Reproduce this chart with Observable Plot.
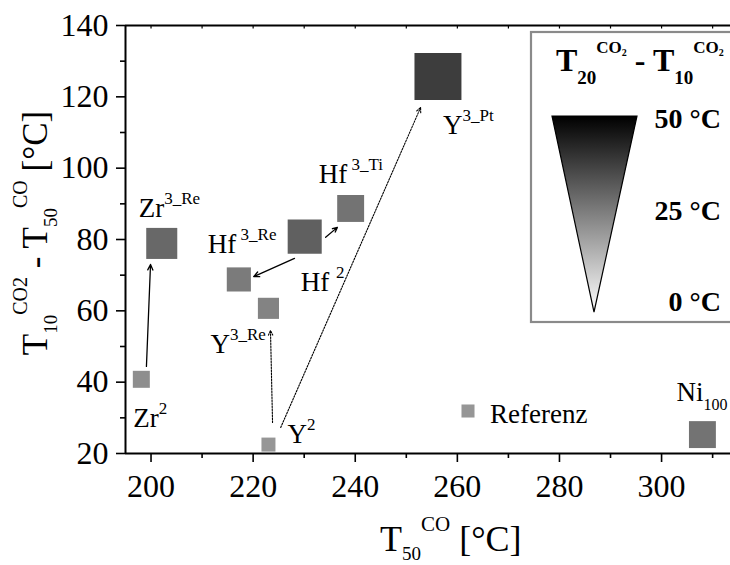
<!DOCTYPE html>
<html><head><meta charset="utf-8">
<script src="https://cdn.jsdelivr.net/npm/d3@7"></script>
<script src="https://cdn.jsdelivr.net/npm/@observablehq/plot@0.6"></script>
<style>
body{margin:0;background:#fff}
svg{font-family:"Liberation Serif","Times New Roman",serif}
svg text{white-space:pre}
</style>
</head><body><div id="chart"></div>
<script>
// ---------- data ----------
const sampleNames = ["Zr2","Zr3_Re","Hf3_Re","Hf2","Hf3_Ti","Y3_Pt","Y3_Re","Y2","Ni100"];
const sampleLabels = ["Zr^{2}","Zr^{3_Re}","Hf^{ 3_Re}","Hf ^{2}","Hf^{ 3_Ti}","Y^{3_Pt}","Y^{3_Re}","Y^{2}","Ni_{100}"];
const t50CO = [198.1, 202.1, 217.2, 230.1, 239.1, 256.2, 223.0, 223.0, 308.0];      // T50^CO [°C]
const t10CO2minusT50CO = [40.8, 78.9, 68.8, 80.8, 88.7, 125.7, 60.7, 22.5, 25.3];   // T10^CO2 - T50^CO [°C]
const t20minusT10CO2 = [22.1, 29.6, 25.9, 31.2, 27.4, 38.1, 24.3, 20.5, 27.4];     // T20^CO2 - T10^CO2 [°C]

// arrows (start / end, data units)
const arrowX1 = [199.1, 228.1, 234.2, 223.8, 225.4];
const arrowY1 = [44.4, 74.7, 80.6, 28.7, 27.3];
const arrowX2 = [199.9, 220.1, 236.5, 223.4, 252.8];
const arrowY2 = [73.0, 69.6, 83.4, 54.5, 117.0];
const arrowDotted = [false, false, false, true, true];

const xTicks = [200, 220, 240, 260, 280, 300];
const xMinorTicks = [210, 230, 250, 270, 290, 310];
const yTicks = [20, 40, 60, 80, 100, 120, 140];
const yMinorTicks = [30, 50, 70, 90, 110, 130];
const xDomain = [195, 313.5];
const yDomain = [20, 140];
const legendTicks = [50, 25, 0];
const referenceLabel = "Referenz";
const referenceSample = "Y2";

// ---------- layout (pixel offsets of labels relative to their square) ----------
const labelOffsets = {
  Zr2: [-8, 48], Zr3_Re: [-23, -26], Hf3_Re: [-31, -26], Hf2: [-4, 54],
  Hf3_Ti: [-32, -25], Y3_Pt: [5, 57], Y3_Re: [-58, 45], Y2: [19, -2], Ni100: [-26, -34]
};

const points = sampleNames.map((n, i) => ({name: n, label: sampleLabels[i], x: t50CO[i], y: t10CO2minusT50CO[i], dT: t20minusT10CO2[i]}));
const arrows = arrowX1.map((_, i) => ({x1: arrowX1[i], y1: arrowY1[i], x2: arrowX2[i], y2: arrowY2[i], dotted: arrowDotted[i]}));

const labelMarks = points.map(p => Plot.text([p], {
  x: "x", y: "y", text: "label", dx: labelOffsets[p.name][0], dy: labelOffsets[p.name][1],
  textAnchor: "start", lineAnchor: "bottom", fontSize: 27, fill: "black"
}));

const plot = Plot.plot({
  width: 730, height: 565,
  marginLeft: 125, marginRight: 0, marginTop: 25, marginBottom: 112,
  x: {domain: xDomain},
  y: {domain: yDomain},
  color: {type: "linear", domain: [0, 50], range: ["white", "black"], interpolate: "rgb"},
  r: {type: "linear", domain: [20.5, 38.1], range: [7.9, 26.5]},
  style: {fontFamily: "'Liberation Serif', 'Times New Roman', serif", color: "black", background: "white"},
  marks: [
    Plot.axisY(yTicks, {tickSize: 9, tickPadding: 8, fontSize: 32, label: null, strokeWidth: 1.6}),
    Plot.axisY(yMinorTicks, {tickSize: 5, tickFormat: () => "", label: null, strokeWidth: 1.6}),
    Plot.axisX(xTicks, {tickSize: 9, tickPadding: 12, fontSize: 32, label: null, strokeWidth: 1.6}),
    Plot.axisX(xMinorTicks, {tickSize: 5, tickFormat: () => "", label: null, strokeWidth: 1.6}),
    Plot.axisX([...xTicks, ...xMinorTicks], {anchor: "top", tickSize: 2.5, dy: 2.5, tickFormat: () => "", label: null, strokeWidth: 1.2}),
    Plot.ruleX([xDomain[0]], {strokeWidth: 2}),
    Plot.ruleY([yDomain[0]], {strokeWidth: 2}),
    Plot.ruleY([yDomain[1]], {strokeWidth: 2}),
    Plot.arrow(arrows.filter(a => !a.dotted), {x1: "x1", y1: "y1", x2: "x2", y2: "y2", stroke: "black", strokeWidth: 1.3, headLength: 7, headAngle: 50}),
    Plot.arrow(arrows.filter(a => a.dotted), {x1: "x1", y1: "y1", x2: "x2", y2: "y2", stroke: "black", strokeWidth: 1.1, strokeDasharray: "1.6,1.4", headLength: 7, headAngle: 50}),
    Plot.dot(points, {x: "x", y: "y", r: "dT", fill: "dT", symbol: "square", stroke: null}),
    ...labelMarks
  ]
});
document.getElementById("chart").appendChild(plot);

// ---------- rich text (super/subscripts) ----------
const SVGNS = "http://www.w3.org/2000/svg";
function setRich(el, segs) {
  el.textContent = "";
  let cur = 0;
  for (const s of segs) {
    const ts = document.createElementNS(SVGNS, "tspan");
    ts.setAttribute("font-size", s.fs);
    const sh = s.shift || 0;
    if (sh - cur !== 0) ts.setAttribute("dy", sh - cur);
    cur = sh;
    ts.textContent = s.t;
    el.appendChild(ts);
  }
}
function parseMarkup(str, fs, small, sup, sub) {
  const segs = [];
  const re = /([\^_])\{([^}]*)\}|([^\^_{}]+)/g;
  let m;
  while ((m = re.exec(str))) {
    if (m[1] === "^") segs.push({t: m[2], fs: small, shift: -sup});
    else if (m[1] === "_") segs.push({t: m[2], fs: small, shift: sub});
    else segs.push({t: m[3], fs, shift: 0});
  }
  return segs;
}
const svg = d3.select(plot);
svg.selectAll('g[aria-label="text"] text').each(function() {
  const str = this.textContent;
  const isSub = str.includes("_{");
  setRich(this, parseMarkup(str, 27, isSub ? 16 : 17, 13, 9));
});

// axis titles
const xt = svg.append("text").attr("x", 380).attr("y", 551).attr("text-anchor", "start").attr("fill", "black");
setRich(xt.node(), [
  {t: "T", fs: 36}, {t: "50", fs: 19, shift: 9}, {t: "CO", fs: 21, shift: -20}, {t: " [°C]", fs: 36}
]);
const yt = svg.append("text").attr("transform", "translate(47,233) rotate(-90)").attr("text-anchor", "middle").attr("fill", "black");
setRich(yt.node(), [
  {t: "T", fs: 35}, {t: "10", fs: 19, shift: 10}, {t: "CO2", fs: 20, shift: -20},
  {t: " - T", fs: 35}, {t: "50", fs: 19, shift: 10}, {t: "CO", fs: 20, shift: -20}, {t: " [°C]", fs: 35}
]);

// ---------- colour legend (pixel layout) ----------
const color = plot.scale("color");
const rScale = plot.scale("r");
const defs = svg.append("defs");
const grad = defs.append("linearGradient").attr("id", "triGrad").attr("x1", 0).attr("y1", 0).attr("x2", 0).attr("y2", 1);
legendTicks.forEach((v, i) => grad.append("stop").attr("offset", i / (legendTicks.length - 1)).attr("stop-color", color.apply(v)));

const lg = svg.append("g").attr("text-anchor", "start");
lg.append("rect").attr("x", 531).attr("y", 32).attr("width", 230).attr("height", 290)
  .attr("fill", "white").attr("stroke", "#8a8a8a").attr("stroke-width", 2.2);
const lt = lg.append("text").attr("x", 556).attr("y", 71).attr("text-anchor", "start").attr("fill", "black").attr("font-weight", "bold");
setRich(lt.node(), [
  {t: "T", fs: 32}, {t: "20", fs: 19, shift: 13}, {t: "CO", fs: 17, shift: -18}, {t: "2", fs: 10, shift: -15},
  {t: " - T", fs: 32}, {t: "10", fs: 19, shift: 13}, {t: "CO", fs: 17, shift: -18}, {t: "2", fs: 10, shift: -15}
]);
const ly = d3.scaleLinear([0, 50], [301, 118]);
lg.append("path")
  .attr("d", `M552,${ly(50) - 2}L637,${ly(50) - 2}L594,${ly(0) + 11}Z`)
  .attr("fill", "url(#triGrad)").attr("stroke", "black").attr("stroke-width", 1.2);
legendTicks.forEach(v => {
  lg.append("text").attr("x", 721).attr("y", ly(v) + 10).attr("text-anchor", "end")
    .attr("font-size", 28).attr("font-weight", "bold").attr("fill", "black").text(`${v} °C`);
});

// reference marker legend
const refPoint = points.find(p => p.name === referenceSample);
const side = rScale.apply(refPoint.dT) * Math.sqrt(Math.PI) * 0.93;
svg.append("rect").attr("x", 468 - side / 2).attr("y", 411 - side / 2).attr("width", side).attr("height", side)
  .attr("fill", color.apply(refPoint.dT));
svg.append("text").attr("x", 490).attr("y", 423).attr("text-anchor", "start").attr("font-size", 27).attr("fill", "black").text(referenceLabel);
</script>
</body></html>
